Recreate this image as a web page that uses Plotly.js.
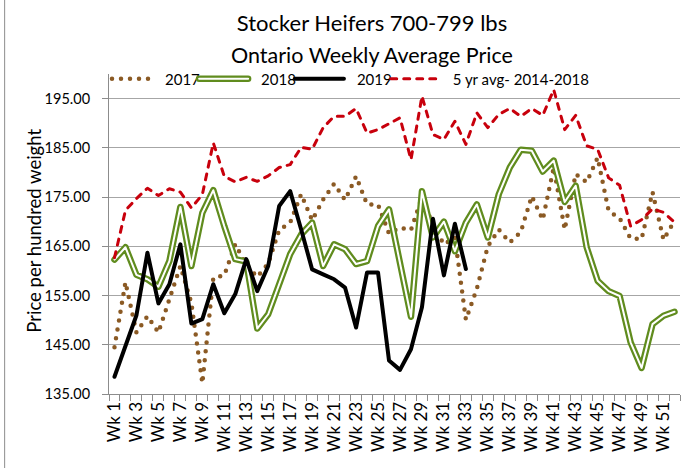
<!DOCTYPE html>
<html>
<head>
<meta charset="utf-8">
<script src="https://cdn.plot.ly/plotly-3.0.1.min.js"></script>
<style>
  html, body { margin: 0; padding: 0; background: #fff; }
  #chart { width: 694px; height: 468px; }
  .js-line { stroke-linecap: round; stroke-linejoin: round; }
</style>
</head>
<body>
<div id="chart"></div>
<script>
// ---------- data ----------
const weeks = ["Wk 1","Wk 2","Wk 3","Wk 4","Wk 5","Wk 6","Wk 7","Wk 8","Wk 9","Wk 10",
  "Wk 11","Wk 12","Wk 13","Wk 14","Wk 15","Wk 16","Wk 17","Wk 18","Wk 19","Wk 20",
  "Wk 21","Wk 22","Wk 23","Wk 24","Wk 25","Wk 26","Wk 27","Wk 28","Wk 29","Wk 30",
  "Wk 31","Wk 32","Wk 33","Wk 34","Wk 35","Wk 36","Wk 37","Wk 38","Wk 39","Wk 40",
  "Wk 41","Wk 42","Wk 43","Wk 44","Wk 45","Wk 46","Wk 47","Wk 48","Wk 49","Wk 50",
  "Wk 51","Wk 52"];

const y2017 = [144.5,157.7,147.5,150.8,147.5,154.6,161.0,153.5,137.2,158.6,
  159.1,165.4,161.2,158.8,161.5,168.3,169.8,175.6,170.3,174.5,
  177.7,174.4,179.2,173.5,173.5,167.6,168.8,168.3,175.0,169.3,
  165.4,166.8,150.1,156.4,165.0,168.4,165.8,167.9,175.2,170.4,
  181.0,168.4,179.7,178.0,183.0,172.2,170.7,166.6,166.5,176.0,
  166.3,170.2];

const y2018 = [162.3,164.8,159.2,158.3,156.8,162.0,173.0,161.0,171.8,176.4,
  169.1,162.4,161.9,148.3,151.2,157.3,163.4,167.4,169.8,161.0,
  165.4,164.4,161.4,162.0,169.1,172.5,161.6,150.7,176.2,166.8,
  170.0,164.0,169.8,173.5,166.8,175.6,181.0,184.6,184.4,180.2,
  182.4,174.0,177.3,164.8,158.0,155.9,154.9,145.5,140.3,149.2,
  150.9,151.7];

const y2019 = [138.5,144.5,151.0,163.7,153.4,157.3,165.4,149.3,150.2,157.3,
  151.4,155.3,162.4,155.9,161.0,173.2,176.2,168.4,160.3,159.3,
  158.3,156.6,148.5,159.7,159.7,141.8,139.9,144.1,152.6,170.6,
  159.1,169.6,160.4];

const yAvg = [162.7,172.3,174.7,176.8,175.3,176.7,176.0,172.8,175.5,186.0,
  179.2,178.1,179.0,178.2,179.3,181.0,181.6,185.1,184.7,189.1,
  191.4,191.4,193.0,188.0,188.7,189.9,191.1,182.6,195.5,187.7,
  186.7,190.4,185.7,192.1,189.1,191.8,193.0,191.4,193.0,191.6,
  196.8,188.7,191.6,185.4,184.7,178.9,177.4,169.1,170.4,172.6,
  171.9,169.9];

const seriesNames = ["2017", "2018", "2019", "5 yr avg- 2014-2018"];
const yTicks = [135, 145, 155, 165, 175, 185, 195];
// every other week is labelled on the axis
const xTickText = weeks.map((w, i) => (i % 2 === 0 ? w : ""));

// ---------- chart ----------
const FONT = "Lato, 'Open Sans', sans-serif";
const GREEN = "#608C1E";

const traces = [
  { x: weeks, y: y2017, name: seriesNames[0], type: "scatter", mode: "lines",
    line: { color: "#8B5A24", width: 4.5, dash: "0px,9px" } },
  { x: weeks, y: y2018, name: seriesNames[1], type: "scatter", mode: "lines",
    line: { color: GREEN, width: 6.5 } },
  { x: weeks, y: y2018, name: seriesNames[1] + " inner", type: "scatter", mode: "lines",
    showlegend: false, hoverinfo: "skip", line: { color: "#ffffff", width: 2 } },
  { x: weeks.slice(0, y2019.length), y: y2019, name: seriesNames[2], type: "scatter", mode: "lines",
    line: { color: "#000000", width: 4 } },
  { x: weeks, y: yAvg, name: seriesNames[3], type: "scatter", mode: "lines",
    line: { color: "#C8000C", width: 3, dash: "6px,7px" } }
];

const L = 109.3, R = 680, T = 74, B = 394;
const W = 694, H = 468;
const pw = R - L, ph = B - T;
const px2x = p => (p - L) / pw;
const px2y = p => (B - p) / ph;

const layout = {
  width: W, height: H,
  margin: { l: L, r: W - R, t: T, b: H - B, pad: 0 },
  paper_bgcolor: "#ffffff", plot_bgcolor: "#ffffff",
  font: { family: FONT, color: "#000000" },
  showlegend: true,
  title: {
    text: "Stocker Heifers 700-799 lbs",
    font: { family: FONT, size: 22, color: "#000" },
    x: 372 / W, xanchor: "center", xref: "container",
    y: 1 - 23 / H, yanchor: "middle", yref: "container"
  },
  legend: {
    orientation: "h", x: 0, xanchor: "left",
    y: px2y(79), yanchor: "middle",
    bgcolor: "rgba(0,0,0,0)", font: { family: FONT, size: 15, color: "#000" },
    itemwidth: 46, tracegroupgap: 0
  },
  xaxis: {
    type: "category", range: [-0.5, weeks.length - 0.5],
    tickmode: "array", tickvals: weeks, ticktext: xTickText,
    tickson: "boundaries", ticks: "outside", ticklen: 6, tickcolor: "#8C8C8C", tickwidth: 1,
    tickangle: -90, tickfont: { family: FONT, size: 17, color: "#000" },
    showgrid: false, showline: true, linecolor: "#8C8C8C", linewidth: 1,
    zeroline: false, fixedrange: true
  },
  yaxis: {
    range: [135, 200], tickmode: "array", tickvals: yTicks,
    tickformat: ".2f", ticks: "outside", ticklen: 6, tickcolor: "#8C8C8C",
    ticklabelstandoff: 9,
    tickfont: { family: FONT, size: 14.5, color: "#000" },
    showgrid: true, gridcolor: "#A6A6A6", gridwidth: 1,
    showline: true, linecolor: "#8C8C8C", linewidth: 1,
    zeroline: false, fixedrange: true
  },
  annotations: [
    { text: "Ontario Weekly Average Price", xref: "paper", yref: "paper",
      x: px2x(372), y: px2y(55), xanchor: "center", yanchor: "middle",
      showarrow: false, font: { family: FONT, size: 21.5, color: "#000" } },
    { text: "Price per hundred weight", xref: "paper", yref: "paper",
      x: px2x(34), y: px2y(231), xanchor: "center", yanchor: "middle",
      textangle: -90, showarrow: false, font: { family: FONT, size: 18.5, color: "#000" } }
  ],
  shapes: [
    { type: "line", xref: "paper", yref: "paper",
      x0: px2x(5), x1: px2x(5), y0: px2y(0), y1: px2y(H),
      line: { color: "#8C8C8C", width: 1 } }
  ]
};

Plotly.newPlot("chart", traces, layout, { staticPlot: true, displayModeBar: false })
  .then(gd => {
    gd.querySelectorAll(".legend .traces").forEach(it => {
      const p = it.querySelector("path.js-line");
      if (!p) return;
      // longer legend symbols, as in the original
      p.setAttribute("d", "M-6,0h49");
      // the 2018 symbol gets the same white core as the plotted double line
      if (it.textContent.trim() === seriesNames[1]) {
        const c = p.cloneNode();
        c.style.stroke = "#ffffff";
        c.style.strokeWidth = "2px";
        p.parentNode.appendChild(c);
      }
    });
  });
</script>
</body>
</html>
